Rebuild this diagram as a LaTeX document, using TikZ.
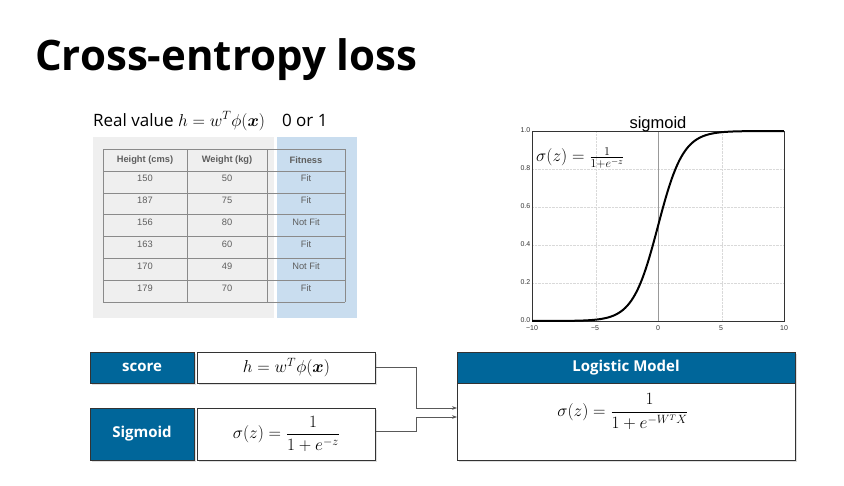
\documentclass[tikz,border=0pt]{standalone}
\usepackage{amsmath,amssymb}
\usepackage{bm}
\usepackage{fontspec}
\setmainfont{Open Sans}
\newfontfamily\tabfont{Liberation Sans}
\usepackage{xcolor}
\usetikzlibrary{arrows.meta,positioning,calc,shadows}

\definecolor{boxblue}{HTML}{00669A}
\definecolor{tabblue}{HTML}{C9DDEF}
\definecolor{tabgray}{HTML}{EFEFEF}
\definecolor{tabline}{HTML}{8A8A8A}
\definecolor{tabtext}{HTML}{5E5E5E}

\tikzset{
  labelbox/.style={draw=black!80, fill=boxblue, text=white, inner sep=0pt,
    font=\bfseries\fontsize{15}{17}\selectfont,
    minimum width=104pt, minimum height=31pt,
    drop shadow={opacity=0.25, shadow xshift=1.5pt, shadow yshift=-1.5pt}},
  formbox/.style={draw=black!80, fill=white, inner sep=0pt,
    font=\fontsize{17}{19}\selectfont,
    minimum width=178pt, minimum height=31pt,
    drop shadow={opacity=0.25, shadow xshift=1.5pt, shadow yshift=-1.5pt}},
  cell/.style={font=\tabfont\fontsize{9.3}{11}\selectfont, text=tabtext},
  headcell/.style={cell, font=\tabfont\bfseries\fontsize{9.3}{11}\selectfont},
  tick/.style={font=\tabfont\fontsize{7}{8}\selectfont, text=black!80, inner sep=0.5pt},
  link/.style={draw=black!65, line width=0.9pt, -{Stealth[length=5pt]}}
}

\begin{document}
\begin{tikzpicture}[x=1pt,y=-1pt]
  \useasboundingbox (0,0) rectangle (844,485);
  % title and line above the table
  \node[anchor=base west, inner sep=0pt, font=\bfseries\fontsize{42}{46}\selectfont] (title) at (35,70) {Cross-entropy loss};
  \node[anchor=base west, inner sep=0pt, font=\fontsize{17}{19}\selectfont] (realval) at (93,126) {Real value $h = w^T\phi(\bm{x})$\hspace{17pt}0 or 1};

  % table with the fitness column marked
  \fill[tabgray] (93,137) rectangle (274,318);
  \fill[tabblue] (277,137) rectangle (357,318);
  \foreach \gy in {149,171,193,214,236,258,280,302}
    \draw[tabline] (103,\gy) -- (345,\gy);
  \foreach \gx in {103,187,267,345}
    \draw[tabline] (\gx,149) -- (\gx,302);
  \node[headcell] (head-1) at (145,160) {Height (cms)};
  \node[headcell] (head-2) at (227,160) {Weight (kg)};
  \node[headcell] (head-3) at (306,160) {Fitness};
  \foreach \ht/\wt/\fit [count=\r] in {150/50/Fit,187/75/Fit,156/80/Not Fit,163/60/Fit,170/49/Not Fit,179/70/Fit} {
    \node[cell] (ht-\r) at (145,{160+21.86*\r}) {\ht};
    \node[cell] (wt-\r) at (227,{160+21.86*\r}) {\wt};
    \node[cell] (fit-\r) at (306,{160+21.86*\r}) {\fit};
  }

  % sigmoid plot
  \foreach \gx in {596,722}
    \draw[black!15, densely dotted] (\gx,131) -- (\gx,321);
  \foreach \gy in {169,207,245,283}
    \draw[black!15, densely dotted] (532,\gy) -- (784,\gy);
  \draw[black!40] (658,131) -- (658,321);
  \draw[black!80] (532,131) rectangle (784,321);
  \draw[line width=2pt] plot[domain=-10:10, samples=120, smooth] ({658+12.6*\x},{226-95*tanh(\x/2)});
  \foreach \v [count=\i] in {0.0,0.2,0.4,0.6,0.8,1.0}
    \node[tick, anchor=east] (ytick-\i) at (531,{320-38*(\i-1)}) {\v};
  \foreach \v [count=\i] in {−10,−5,0,5,10}
    \node[tick, anchor=north] (xtick-\i) at ({532+63*(\i-1)},324.5) {\v};
  \node[anchor=base, font=\tabfont\fontsize{16.5}{18}\selectfont] (plottitle) at (658,128) {sigmoid};
  \node[anchor=west, inner sep=0pt, font=\fontsize{18.5}{20}\selectfont] (sigeq) at (536,158) {$\sigma(z) =\frac{1}{1+e^{-z}}$};

  % score and sigmoid boxes feeding the model
  \node[labelbox] (score) at (142,367.5) {score};
  \node[formbox, right=3pt of score] (scoreeq) {$h = w^T\phi(\bm{x})$};
  \node[labelbox, minimum height=52pt] (sigm) at (142,434) {Sigmoid};
  \node[formbox, minimum height=52pt, right=3pt of sigm, font=\fontsize{17.5}{19}\selectfont] (sigmeq) {$\sigma(z) = \dfrac{1}{1+e^{-z}}$};

  \node[labelbox, minimum width=338pt] (logit) at (626,367.5) {Logistic Model};
  \node[draw=black!80, fill=white, minimum width=338pt, minimum height=77pt, below=0pt of logit,
    drop shadow={opacity=0.25, shadow xshift=1.5pt, shadow yshift=-1.5pt}] (logitbody) {};
  \node[below=7pt of logit.south, xshift=-3pt, font=\fontsize{17}{19}\selectfont] (logiteq) {$\sigma(z) = \dfrac{1}{1+e^{-W^T X}}$};

  \coordinate (in1) at (457,408);
  \coordinate (in2) at (457,417);
  \draw[link] (scoreeq.east) -- ++(41,0) |- (in1);
  \draw[link] ($(sigmeq.east)+(0,-3)$) -- ++(41,0) |- (in2);
\end{tikzpicture}
\end{document}
